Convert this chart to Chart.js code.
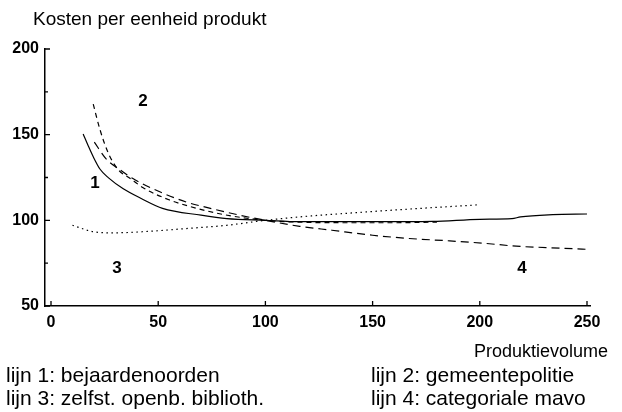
<!DOCTYPE html>
<html>
<head>
<meta charset="utf-8">
<script src="https://cdn.jsdelivr.net/npm/chart.js@4"></script>
<style>
  body { margin: 0; background: #fff; font-family: "Liberation Sans", Arial, sans-serif; color: #000; }
  #wrap { position: relative; width: 622px; height: 412px; }
  .txt { position: absolute; white-space: nowrap; line-height: 1; }
  #titel { left: 33px; top: 9px; font-size: 19px; }
  #xlabel { left: 474px; top: 342px; font-size: 18px; }
  .leg { font-size: 21px; }
</style>
</head>
<body>
<div id="wrap">
  <canvas id="grafiek" width="622" height="412"></canvas>
  <div class="txt" id="titel">Kosten per eenheid produkt</div>
  <div class="txt" id="xlabel">Produktievolume</div>
  <div class="txt leg" style="left:6px; top:364px;">lijn 1: bejaardenoorden</div>
  <div class="txt leg" style="left:6px; top:387px;">lijn 3: zelfst. openb. biblioth.</div>
  <div class="txt leg" style="left:371px; top:364px;">lijn 2: gemeentepolitie</div>
  <div class="txt leg" style="left:371px; top:387px;">lijn 4: categoriale mavo</div>
</div>
<script>
const lijn1X = [15, 17.4, 19.7, 22.9, 26.7, 33.7, 42.3, 52, 70, 82, 100, 116, 150, 178, 200, 215, 219, 234, 250];
const lijn1Y = [150.4, 143.4, 137.1, 129.8, 124.9, 118.4, 112.6, 107, 103, 101, 100, 99.2, 99.2, 99.4, 100.6, 101, 102, 103.3, 103.7];

const lijn2X = [19.7, 22.9, 26.7, 31.4, 36.8, 43, 55, 65, 80, 100, 120, 140, 160, 180];
const lijn2Y = [167.8, 152.7, 139.3, 129.5, 124.6, 119, 112, 108, 103.5, 100, 98.8, 98.6, 98.6, 99];

const lijn3X = [10, 20, 29, 46, 63, 82, 100, 116, 147, 170, 200];
const lijn3Y = [97.1, 93.3, 92.7, 93.6, 95.2, 97.1, 100, 102, 104.9, 106.8, 109.1];

const lijn4X = [20.2, 25.7, 32.2, 38, 51, 63, 73, 88, 100, 116, 131, 150, 167, 186, 203, 217, 231, 250];
const lijn4Y = [145.6, 135.9, 129.5, 124.5, 116.5, 110.7, 107.4, 103, 100, 96.5, 94.2, 91.3, 89.4, 88, 86.5, 84.9, 84.1, 83.1];

const xTicks = [0, 50, 100, 150, 200, 250];
const yTicks = [50, 75, 100, 125, 150, 175, 200];

// nummers bij de lijnen
const nummers = ['1', '2', '3', '4'];
const nummerX = [20.5, 42.9, 30.8, 219.7];
const nummerY = [121.8, 169.6, 72.2, 72.2];

function punten(xs, ys) {
  return xs.map((x, i) => ({ x: x, y: ys[i] }));
}

// tickjes naar binnen + nummers
const binnenTicks = {
  id: 'binnenTicks',
  afterDraw(chart) {
    const ctx = chart.ctx;
    const x = chart.scales.x, y = chart.scales.y;
    const a = chart.chartArea;
    ctx.save();
    ctx.strokeStyle = '#000';
    ctx.lineWidth = 1.3;
    ctx.beginPath();
    x.ticks.forEach(t => {
      const px = x.getPixelForValue(t.value);
      ctx.moveTo(px, a.bottom);
      ctx.lineTo(px, a.bottom - 5);
    });
    y.ticks.forEach(t => {
      const py = y.getPixelForValue(t.value);
      const len = t.value % 50 === 0 ? 5 : 3;
      ctx.moveTo(a.left, py);
      ctx.lineTo(a.left + len, py);
    });
    ctx.stroke();

    ctx.fillStyle = '#000';
    ctx.font = 'bold 17px "Liberation Sans", Arial, sans-serif';
    ctx.textAlign = 'center';
    ctx.textBaseline = 'middle';
    nummers.forEach((n, i) => {
      ctx.fillText(n, x.getPixelForValue(nummerX[i]), y.getPixelForValue(nummerY[i]));
    });
    ctx.restore();
  }
};

const basis = { borderColor: '#000', borderWidth: 1.2, pointRadius: 0, fill: false, cubicInterpolationMode: 'monotone' };
const tickFont = { family: '"Liberation Sans", Arial, sans-serif', size: 16, weight: 'bold' };

new Chart(document.getElementById('grafiek'), {
  type: 'line',
  data: {
    datasets: [
      Object.assign({ label: 'lijn 1', data: punten(lijn1X, lijn1Y) }, basis),
      Object.assign({ label: 'lijn 2', data: punten(lijn2X, lijn2Y), borderDash: [5, 4] }, basis),
      Object.assign({ label: 'lijn 3', data: punten(lijn3X, lijn3Y), borderDash: [1.5, 3.5] }, basis),
      Object.assign({ label: 'lijn 4', data: punten(lijn4X, lijn4Y), borderDash: [8, 5] }, basis)
    ]
  },
  options: {
    responsive: false,
    animation: false,
    layout: { padding: { top: 49, right: 32, left: 0, bottom: 0 } },
    plugins: { legend: { display: false }, tooltip: { enabled: false } },
    scales: {
      x: {
        type: 'linear',
        min: -2.8,
        max: 251.4,
        afterBuildTicks: s => { s.ticks = xTicks.map(v => ({ value: v })); },
        afterFit: s => { s.height = 106; },
        grid: { display: false, drawTicks: false },
        border: { display: true, color: '#000', width: 1.5 },
        ticks: { color: '#000', padding: 7, font: tickFont }
      },
      y: {
        type: 'linear',
        min: 50,
        max: 200,
        afterBuildTicks: s => { s.ticks = yTicks.map(v => ({ value: v })); },
        afterFit: s => { s.width = 45; },
        grid: { display: false, drawTicks: false },
        border: { display: true, color: '#000', width: 1.5 },
        ticks: {
          color: '#000',
          padding: 6,
          font: tickFont,
          callback: v => (v % 50 === 0 ? v : '')
        }
      }
    }
  },
  plugins: [binnenTicks]
});
</script>
</body>
</html>
